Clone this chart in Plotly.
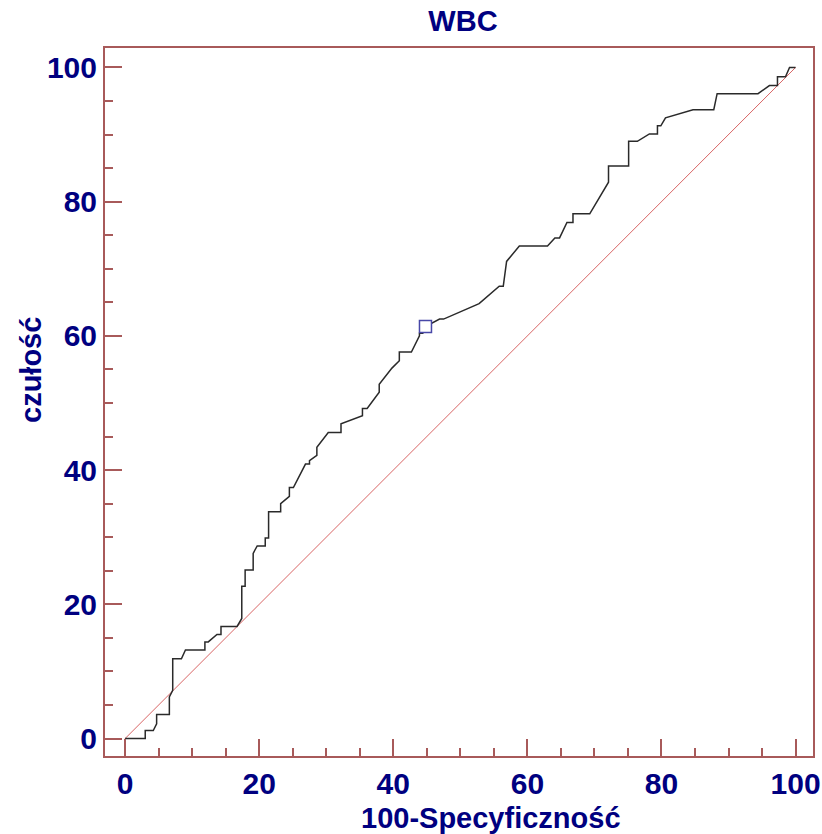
import plotly.graph_objects as go

# ROC curve vertices (100-Specificity, Sensitivity)
roc_x = [0, 3.0, 3.0, 4.2, 4.7, 4.7, 6.6, 6.6, 7.1, 7.1, 8.4, 9.0, 11.9, 11.9, 12.4,
         13.7, 14.3, 14.3, 16.7, 17.4, 17.4, 17.9, 17.9, 19.1, 19.1, 19.7, 20.9, 20.9,
         21.4, 21.4, 23.2, 23.2, 24.5, 24.5, 25.1, 26.9, 27.5, 27.5, 28.6, 28.6, 30.3,
         32.2, 32.2, 35.4, 35.4, 36.1, 37.9, 37.9, 39.8, 40.9, 40.9, 42.7, 43.9, 43.9,
         44.4, 44.8, 46.9, 47.5, 52.8, 55.8, 56.4, 56.9, 58.8, 63.0, 64.1, 64.8, 65.9,
         66.8, 66.8, 69.3, 72.1, 72.1, 75.1, 75.1, 76.4, 78.2, 79.4, 79.4, 79.9, 80.6,
         84.7, 87.8, 88.3, 94.4, 96.1, 97.3, 97.3, 98.5, 99.1, 100]
roc_y = [0, 0, 1.2, 1.2, 2.2, 3.6, 3.6, 6.2, 7.2, 11.9, 11.9, 13.2, 13.2, 14.4, 14.4,
         15.5, 15.5, 16.7, 16.7, 17.9, 22.7, 22.7, 25.1, 25.1, 27.6, 28.7, 28.7, 29.9,
         29.9, 33.8, 33.8, 35.0, 36.1, 37.4, 37.4, 40.9, 40.9, 41.4, 42.2, 43.4, 45.6,
         45.6, 46.9, 48.1, 49.2, 49.2, 51.6, 52.8, 55.2, 56.3, 57.6, 57.6, 60.0, 60.4,
         60.4, 61.4, 62.5, 62.5, 64.8, 67.4, 67.4, 71.1, 73.4, 73.4, 74.6, 74.6, 76.9,
         76.9, 78.2, 78.2, 82.9, 85.3, 85.3, 89.0, 89.0, 90.1, 90.1, 91.3, 91.3, 92.5,
         93.7, 93.7, 96.1, 96.1, 97.3, 97.3, 98.6, 98.6, 100, 100]

# Reference diagonal
diag_x = [0, 100]
diag_y = [0, 100]

# Optimal criterion point
crit_x = [44.8]
crit_y = [61.4]

title_text = "WBC"
x_title = "100-Specyficzność"
y_title = "czułość"
tick_vals = [0, 20, 40, 60, 80, 100]

navy = "#000080"
axis_col = "#a85a5a"
font_family = "Liberation Sans, Arial, sans-serif"

fig = go.Figure()
fig.add_trace(go.Scatter(x=diag_x, y=diag_y, mode="lines",
                         line=dict(color="#d86464", width=1), hoverinfo="skip"))
fig.add_trace(go.Scatter(x=roc_x, y=roc_y, mode="lines",
                         line=dict(color="#2a2a2a", width=1.5)))
fig.add_trace(go.Scatter(x=crit_x, y=crit_y, mode="markers",
                         marker=dict(symbol="square", size=12, color="white",
                                     line=dict(color="#4848a8", width=1.5))))

axis_common = dict(
    showline=True, linecolor=axis_col, linewidth=2, mirror=True,
    ticks="inside", ticklen=17, tickwidth=2, tickcolor=axis_col,
    tickvals=tick_vals,
    ticktext=["<b>%d</b>" % v for v in tick_vals],
    minor=dict(dtick=5, ticks="inside", ticklen=8, tickwidth=2, tickcolor=axis_col),
    showgrid=False, zeroline=False, automargin=False,
    tickfont=dict(family=font_family, size=30, color=navy),
)

# plot area in pixels: x 105..813, y 48..756
PW, PH = 708.0, 708.0

fig.update_layout(
    width=822, height=834,
    paper_bgcolor="white", plot_bgcolor="white",
    showlegend=False,
    font=dict(family=font_family),
    margin=dict(l=105, r=9, t=48, b=78, pad=0),
    title=dict(text="<b>" + title_text + "</b>", x=463 / 822, xanchor="center",
               y=1 - 21 / 834, yanchor="middle",
               font=dict(family=font_family, size=29, color=navy)),
    xaxis=dict(range=[-3, 102.6], **axis_common),
    yaxis=dict(range=[-2.6, 102.9], **axis_common),
    annotations=[
        dict(text="<b>" + x_title + "</b>", xref="paper", yref="paper",
             x=(491 - 105) / PW, y=(756 - 818) / PH, xanchor="center", yanchor="middle",
             showarrow=False, font=dict(family=font_family, size=29, color=navy)),
        dict(text="<b>" + y_title + "</b>", xref="paper", yref="paper",
             x=(31 - 105) / PW, y=(756 - 370) / PH, xanchor="center", yanchor="middle",
             textangle=-90, showarrow=False,
             font=dict(family=font_family, size=29, color=navy)),
    ],
)

fig.write_html("out.html", config={"displayModeBar": False},
               post_script="document.body.style.margin='0';")
